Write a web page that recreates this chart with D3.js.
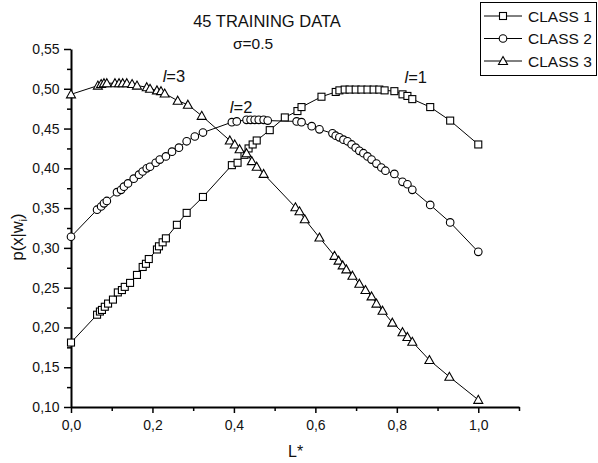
<!DOCTYPE html>
<html>
<head>
<meta charset="utf-8">
<script src="https://cdn.jsdelivr.net/npm/d3@7"></script>
<style>
  body { margin: 0; background: #fff; }
  svg { display: block; font-family: "Liberation Sans", Arial, sans-serif; }
</style>
</head>
<body>
<svg width="598" height="463"></svg>
<script>
// values (L*, p(x|w_i))
const class1X = [0.000, 0.064, 0.071, 0.076, 0.083, 0.091, 0.103, 0.115, 0.125, 0.132, 0.145, 0.162, 0.176, 0.184, 0.191, 0.211, 0.216, 0.225, 0.233, 0.260, 0.284, 0.324, 0.395, 0.409, 0.426, 0.436, 0.446, 0.456, 0.488, 0.525, 0.556, 0.566, 0.615, 0.650, 0.659, 0.672, 0.684, 0.699, 0.713, 0.728, 0.743, 0.757, 0.770, 0.794, 0.814, 0.826, 0.838, 0.882, 0.931, 1.000];
const class1Y = [0.181, 0.216, 0.220, 0.222, 0.226, 0.230, 0.235, 0.244, 0.247, 0.251, 0.256, 0.266, 0.276, 0.280, 0.286, 0.298, 0.302, 0.307, 0.312, 0.329, 0.344, 0.364, 0.404, 0.407, 0.417, 0.425, 0.430, 0.435, 0.448, 0.464, 0.472, 0.477, 0.490, 0.496, 0.498, 0.499, 0.499, 0.499, 0.499, 0.499, 0.499, 0.499, 0.498, 0.497, 0.493, 0.491, 0.487, 0.477, 0.460, 0.430];

const class2X = [0.000, 0.064, 0.074, 0.081, 0.088, 0.113, 0.123, 0.130, 0.140, 0.154, 0.167, 0.176, 0.186, 0.194, 0.208, 0.218, 0.233, 0.248, 0.265, 0.284, 0.304, 0.324, 0.395, 0.407, 0.431, 0.441, 0.451, 0.461, 0.473, 0.483, 0.554, 0.566, 0.591, 0.610, 0.642, 0.650, 0.659, 0.669, 0.679, 0.689, 0.699, 0.708, 0.718, 0.728, 0.738, 0.750, 0.762, 0.772, 0.794, 0.814, 0.826, 0.838, 0.882, 0.931, 1.000];
const class2Y = [0.314, 0.348, 0.352, 0.356, 0.359, 0.370, 0.373, 0.377, 0.381, 0.387, 0.392, 0.396, 0.400, 0.402, 0.407, 0.411, 0.415, 0.421, 0.426, 0.434, 0.440, 0.445, 0.458, 0.459, 0.461, 0.461, 0.461, 0.461, 0.461, 0.460, 0.459, 0.458, 0.453, 0.449, 0.444, 0.441, 0.439, 0.436, 0.434, 0.430, 0.426, 0.422, 0.419, 0.415, 0.411, 0.406, 0.401, 0.397, 0.393, 0.383, 0.380, 0.373, 0.354, 0.332, 0.295];

const class3X = [0.000, 0.066, 0.074, 0.081, 0.088, 0.108, 0.118, 0.127, 0.137, 0.150, 0.162, 0.186, 0.194, 0.211, 0.221, 0.230, 0.262, 0.287, 0.321, 0.390, 0.402, 0.414, 0.431, 0.444, 0.456, 0.473, 0.551, 0.561, 0.574, 0.610, 0.647, 0.657, 0.667, 0.676, 0.691, 0.708, 0.723, 0.738, 0.750, 0.765, 0.789, 0.814, 0.826, 0.838, 0.880, 0.929, 1.000];
const class3Y = [0.493, 0.504, 0.506, 0.507, 0.507, 0.507, 0.507, 0.507, 0.507, 0.506, 0.504, 0.502, 0.500, 0.498, 0.497, 0.494, 0.485, 0.480, 0.466, 0.435, 0.430, 0.424, 0.419, 0.409, 0.402, 0.393, 0.351, 0.346, 0.336, 0.313, 0.290, 0.284, 0.278, 0.273, 0.265, 0.255, 0.247, 0.239, 0.230, 0.221, 0.206, 0.194, 0.188, 0.182, 0.159, 0.138, 0.109];

const seriesNames = ["CLASS 1", "CLASS 2", "CLASS 3"];
const seriesShapes = ["square", "circle", "triangle"];
const curveLabels = ["1", "2", "3"];
const curveLabelAt = [[0.819, 0.507], [0.390, 0.470], [0.225, 0.508]];

const xMajor = [0, 0.2, 0.4, 0.6, 0.8, 1.0];
const xMinor = [0.1, 0.3, 0.5, 0.7, 0.9, 1.1];
const yMajor = [0.10, 0.15, 0.20, 0.25, 0.30, 0.35, 0.40, 0.45, 0.50, 0.55];
const yMinor = [0.125, 0.175, 0.225, 0.275, 0.325, 0.375, 0.425, 0.475, 0.525];

let svg = d3.select("svg");

let x = d3.scaleLinear().domain([0, 1.1]).range([71, 519]);
let y = d3.scaleLinear().domain([0.10, 0.55]).range([407, 49]);

let comma = f => d => d3.format(f)(d).replace(".", ",");

// axes
let gx = svg.append("g").attr("transform", "translate(0,407)");
gx.call(d3.axisBottom(x).tickValues(xMajor).tickSize(6).tickSizeOuter(0).tickFormat(comma(".1f")));
gx.append("g").call(d3.axisBottom(x).tickValues(xMinor).tickSize(4).tickFormat(""))
  .select(".domain").remove();

let gy = svg.append("g").attr("transform", "translate(71,0)");
gy.call(d3.axisLeft(y).tickValues(yMajor).tickSize(7).tickSizeOuter(0).tickFormat(comma(".2f")));
gy.append("g").call(d3.axisLeft(y).tickValues(yMinor).tickSize(4).tickFormat(""))
  .select(".domain").remove();

svg.selectAll(".domain").attr("stroke", "#000").attr("stroke-width", 2);
svg.selectAll(".tick line").attr("stroke", "#000").attr("stroke-width", 1.5);
svg.selectAll(".tick text").attr("font-size", 14).attr("fill", "#111")
  .attr("font-family", "Liberation Sans, Arial, sans-serif");
gx.selectAll(".tick text").attr("dy", "1.0em");
gy.selectAll(".tick text").attr("dx", "-0.1em");

// axis titles
svg.append("text").attr("x", 288).attr("y", 457).attr("font-size", 16).attr("fill", "#111").text("L*");

let yl = svg.append("text").attr("transform", "translate(23,237) rotate(-90)")
  .attr("text-anchor", "middle").attr("font-size", 16.5).attr("fill", "#111");
yl.append("tspan").text("p(x|w");
yl.append("tspan").attr("font-size", 11).attr("dy", 4).text("i");
yl.append("tspan").attr("dy", -4).text(")");

// title
svg.append("text").attr("x", 267).attr("y", 27).attr("text-anchor", "middle")
  .attr("font-size", 16.5).attr("fill", "#111").text("45 TRAINING DATA");
svg.append("text").attr("x", 253).attr("y", 49).attr("text-anchor", "middle")
  .attr("font-size", 15.5).attr("fill", "#111").text("σ=0.5");

// series
let series = [
  d3.zip(class1X, class1Y),
  d3.zip(class2X, class2Y),
  d3.zip(class3X, class3Y)
];

let line = d3.line().x(d => x(d[0])).y(d => y(d[1]));

function marker(sel, shape) {
  if (shape === "square") {
    sel.append("rect").attr("x", -3.5).attr("y", -3.5).attr("width", 7).attr("height", 7);
  } else if (shape === "circle") {
    sel.append("circle").attr("r", 3.8);
  } else {
    sel.append("path").attr("d", "M0,-4.5L4.5,3.5L-4.5,3.5Z");
  }
  sel.selectAll("*").attr("fill", "#fff").attr("stroke", "#000").attr("stroke-width", 1.1);
}

series.forEach(function(pts) {
  svg.append("path").datum(pts).attr("d", line)
    .attr("fill", "none").attr("stroke", "#000").attr("stroke-width", 1);
});

series.forEach(function(pts, i) {
  svg.append("g").selectAll("g")
    .data(pts)
    .enter().append("g")
    .attr("transform", d => "translate(" + x(d[0]) + "," + y(d[1]) + ")")
    .each(function() { marker(d3.select(this), seriesShapes[i]); });
});

// curve labels
curveLabels.forEach(function(t, i) {
  let lt = svg.append("text")
    .attr("x", x(curveLabelAt[i][0])).attr("y", y(curveLabelAt[i][1]))
    .attr("font-size", 16.5).attr("fill", "#111");
  lt.append("tspan").attr("font-style", "italic").text("l");
  lt.append("tspan").text("=" + t);
});

// legend
let leg = svg.append("g");
leg.append("rect").attr("x", 480.5).attr("y", 2.5).attr("width", 116).attr("height", 73)
  .attr("fill", "#fff").attr("stroke", "#000").attr("stroke-width", 1);
seriesNames.forEach(function(name, i) {
  let cy = 16 + i * 22.5;
  let row = leg.append("g").attr("transform", "translate(0," + cy + ")");
  row.append("line").attr("x1", 484).attr("x2", 522).attr("y1", 0).attr("y2", 0)
    .attr("stroke", "#000").attr("stroke-width", 1);
  let m = row.append("g").attr("transform", "translate(503,0)");
  marker(m, seriesShapes[i]);
  row.append("text").attr("x", 528).attr("y", 5.5).attr("font-size", 15.5).attr("fill", "#111").text(name);
});
</script>
</body>
</html>
